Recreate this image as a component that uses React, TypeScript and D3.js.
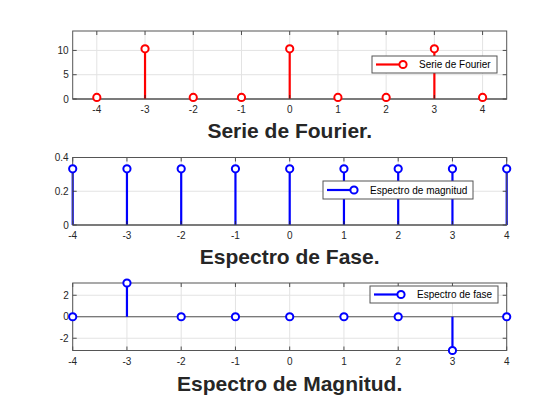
import React from "react";
import * as d3 from "d3";

const nValues = [-4, -3, -2, -1, 0, 1, 2, 3, 4];
const fourierValues = [0.33, 10.33, 0.33, 0.33, 10.33, 0.33, 0.33, 10.33, 0.33];
const magnitudeValues = [0.333, 0.333, 0.333, 0.333, 0.333, 0.333, 0.333, 0.333, 0.333];
const phaseValues = [0, Math.PI, 0, 0, 0, 0, 0, -Math.PI, 0];
const xTicks = [-4, -3, -2, -1, 0, 1, 2, 3, 4];
const yTicks1 = [0, 5, 10];
const yTicks2 = [0, 0.2, 0.4];
const yTicks3 = [-2, 0, 2];
const titles = ["Serie de Fourier.", "Espectro de Fase.", "Espectro de Magnitud."];
const legendLabels = ["Serie de Fourier", "Espectro de magnitud", "Espectro de fase"];

const FONT = "Arial, 'Liberation Sans', Helvetica, sans-serif";
const AX = "#262626";
const GRID = "#e3e3e3";

type PanelProps = {
  top: number;
  bottom: number;
  xDomain: [number, number];
  yDomain: [number, number];
  yTicks: number[];
  values: number[];
  color: string;
  legend: { x: number; y: number; w: number; h: number; label: string };
  title: string;
  titleY: number;
};

const LEFT = 72.7;
const RIGHT = 506.7;

function Panel(p: PanelProps) {
  const x = d3.scaleLinear().domain(p.xDomain).range([LEFT, RIGHT]);
  const y = d3.scaleLinear().domain(p.yDomain).range([p.bottom, p.top]);
  const fmt = (v: number) => String(v);
  const tl = 4;
  const y0 = y(0);
  return (
    <g>
      <rect x={LEFT} y={p.top} width={RIGHT - LEFT} height={p.bottom - p.top} fill="white" />
      {xTicks.map((t) => (
        <line key={"gx" + t} x1={x(t)} x2={x(t)} y1={p.top} y2={p.bottom} stroke={GRID} strokeWidth={1} />
      ))}
      {p.yTicks.map((t) => (
        <line key={"gy" + t} x1={LEFT} x2={RIGHT} y1={y(t)} y2={y(t)} stroke={GRID} strokeWidth={1} />
      ))}
      {/* baseline */}
      <line x1={LEFT} x2={RIGHT} y1={y0} y2={y0} stroke="#555" strokeWidth={1.2} />
      {/* stems */}
      {nValues.map((n, i) => (
        <line key={"s" + n} x1={x(n)} x2={x(n)} y1={y0} y2={y(p.values[i])} stroke={p.color} strokeWidth={2.2} />
      ))}
      {/* ticks */}
      {xTicks.map((t) => (
        <g key={"tx" + t}>
          <line x1={x(t)} x2={x(t)} y1={p.bottom} y2={p.bottom - tl} stroke={AX} strokeWidth={0.8} />
          <line x1={x(t)} x2={x(t)} y1={p.top} y2={p.top + tl} stroke={AX} strokeWidth={0.8} />
          <text x={x(t)} y={p.bottom + 14} fontSize={10} fontFamily={FONT} fill={AX} textAnchor="middle">
            {fmt(t)}
          </text>
        </g>
      ))}
      {p.yTicks.map((t) => (
        <g key={"ty" + t}>
          <line x1={LEFT} x2={LEFT + tl} y1={y(t)} y2={y(t)} stroke={AX} strokeWidth={0.8} />
          <line x1={RIGHT} x2={RIGHT - tl} y1={y(t)} y2={y(t)} stroke={AX} strokeWidth={0.8} />
          <text x={LEFT - 4} y={y(t) + 3.6} fontSize={10} fontFamily={FONT} fill={AX} textAnchor="end">
            {fmt(t)}
          </text>
        </g>
      ))}
      <rect x={LEFT} y={p.top} width={RIGHT - LEFT} height={p.bottom - p.top} fill="none" stroke="#555" strokeWidth={1} />
      {/* markers */}
      {nValues.map((n, i) => (
        <circle key={"m" + n} cx={x(n)} cy={y(p.values[i])} r={3.6} fill="white" stroke={p.color} strokeWidth={2} />
      ))}
      {/* legend */}
      <rect x={p.legend.x} y={p.legend.y} width={p.legend.w} height={p.legend.h} fill="white" stroke="#555" strokeWidth={1} />
      <line
        x1={p.legend.x + 4}
        x2={p.legend.x + 31}
        y1={p.legend.y + p.legend.h / 2}
        y2={p.legend.y + p.legend.h / 2}
        stroke={p.color}
        strokeWidth={2.2}
      />
      <circle cx={p.legend.x + 31} cy={p.legend.y + p.legend.h / 2} r={3.6} fill="white" stroke={p.color} strokeWidth={2} />
      <text
        x={p.legend.x + 47}
        y={p.legend.y + p.legend.h / 2 + 3.5}
        fontSize={10}
        fontFamily={FONT}
        fill="#000"
      >
        {p.legend.label}
      </text>
      <text
        x={(LEFT + RIGHT) / 2}
        y={p.titleY}
        fontSize={21}
        fontWeight="bold"
        fontFamily={FONT}
        fill={AX}
        textAnchor="middle"
      >
        {p.title}
      </text>
    </g>
  );
}

export default function App() {
  return (
    <svg
      width={560}
      height={420}
      style={{ position: "absolute", left: 0, top: 0, background: "white" }}
    >
      <rect width={560} height={420} fill="white" />
      <Panel
        top={31}
        bottom={99}
        xDomain={[-4.5, 4.5]}
        yDomain={[0, 14]}
        yTicks={yTicks1}
        values={fourierValues}
        color="#ff0000"
        legend={{ x: 372, y: 56, w: 125, h: 17, label: legendLabels[0] }}
        title={titles[0]}
        titleY={138}
      />
      <Panel
        top={157.5}
        bottom={225}
        xDomain={[-4, 4]}
        yDomain={[0, 0.4]}
        yTicks={yTicks2}
        values={magnitudeValues}
        color="#0000ff"
        legend={{ x: 323, y: 181, w: 150, h: 18, label: legendLabels[1] }}
        title={titles[1]}
        titleY={263.5}
      />
      <Panel
        top={283}
        bottom={350.5}
        xDomain={[-4, 4]}
        yDomain={[-Math.PI, Math.PI]}
        yTicks={yTicks3}
        values={phaseValues}
        color="#0000ff"
        legend={{ x: 370, y: 286, w: 128, h: 17, label: legendLabels[2] }}
        title={titles[2]}
        titleY={391}
      />
    </svg>
  );
}
